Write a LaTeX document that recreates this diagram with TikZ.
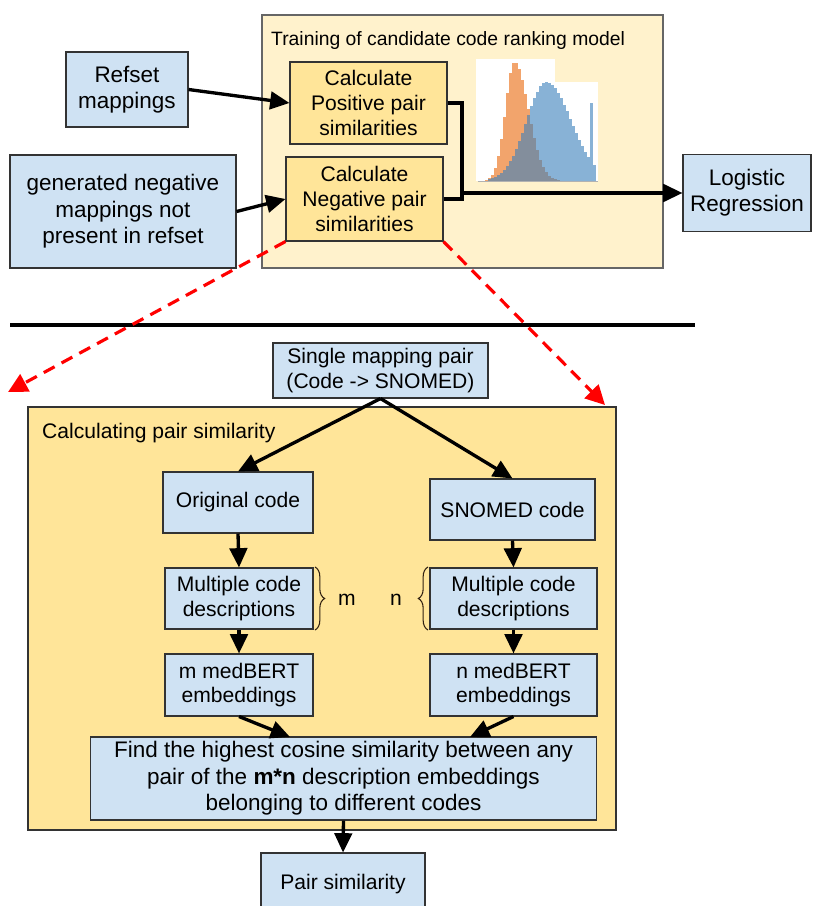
\documentclass[tikz,border=0pt]{standalone}
\usepackage{fontspec}
\setmainfont{Liberation Sans}
\usepackage{tikz}
\usetikzlibrary{arrows.meta, decorations.pathreplacing}

\definecolor{boxblue}{HTML}{CFE2F3}
\definecolor{boxamber}{HTML}{FFE599}
\definecolor{boxcream}{HTML}{FFF2CC}
\definecolor{historange}{HTML}{F2A46C}
\definecolor{histblue}{HTML}{3A80BC}

\begin{document}
\begin{tikzpicture}[x=0.02cm, y=-0.02cm,
    font=\fontsize{12}{14}\selectfont,
    bluebox/.style={draw=black!80, line width=0.6pt, fill=boxblue, align=center, inner sep=2pt},
    amberbox/.style={draw=black!80, line width=0.6pt, fill=boxamber, align=center, inner sep=2pt},
    bigtext/.style={font=\fontsize{12.8}{15}\selectfont},
    flow/.style={line width=1.9pt, -{Triangle[length=11pt, width=10pt]}},
    zoomline/.style={red, line width=1.8pt, dash pattern=on 7pt off 4.5pt, -{Triangle[length=11pt, width=11pt]}}]
   \useasboundingbox (0,0) rectangle (818,906);

   % upper part: training
   \draw[draw=black!60, fill=boxcream, line width=0.6pt] (262,15) rectangle (663,268);
   \node[anchor=west, font=\fontsize{11}{13}\selectfont] (traintitle) at (265,41) {Training of candidate code ranking model};

   \node[bluebox, bigtext, minimum width=2.44cm, minimum height=1.5cm] (refset) at (127,89.5) {Refset\\mappings};
   \node[bluebox, bigtext, minimum width=4.52cm, minimum height=2.26cm] (negmap) at (123,211.5) {generated negative\\mappings not\\present in refset};
   \node[amberbox, minimum width=3.14cm, minimum height=1.64cm] (pos) at (368.5,103) {Calculate\\Positive pair\\similarities};
   \node[amberbox, minimum width=3.14cm, minimum height=1.68cm] (neg) at (364.5,199) {Calculate\\Negative pair\\similarities};
   \node[bluebox, bigtext, minimum width=2.56cm, minimum height=1.54cm] (logreg) at (747,193) {Logistic\\Regression};
   \coordinate (junc) at (462,193);

   % histogram
   \fill[white] (476,59) rectangle (555,181);
   \fill[white] (555,82) rectangle (598,181);
   \foreach \hx in {482,485,...,560} {
      \pgfmathsetmacro{\ho}{ifthenelse(\hx<513, 119*exp(-((\hx-513)*(\hx-513))/162), 119*exp(-((\hx-513)*(\hx-513))/392))}
      \fill[historange] (\hx,181) rectangle (\hx+3,181-\ho);
   }
   \foreach \hx in {488,491,...,593} {
      \pgfmathsetmacro{\hb}{ifthenelse(\hx==590, 78, ifthenelse(\hx<545, 99*exp(-((\hx-545)*(\hx-545))/800), 99*exp(-((\hx-545)*(\hx-545))/1250)))}
      \fill[histblue, opacity=0.6] (\hx,181) rectangle (\hx+3,181-\hb);
   }
   \draw[black!30, line width=0.4pt] (478,181) -- (598,181);

   \draw[flow] (refset.east) -- (pos.west);
   \draw[flow] (negmap.east) -- (neg.west);
   \draw[line width=1.9pt] (pos.east) -| (junc);
   \draw[line width=1.9pt] (neg.east) -| (junc);
   \draw[flow] (junc) -- (logreg.west);

   % separator
   \draw[line width=2.6pt] (10,325) -- (695,325);

   % lower part: pair similarity
   \draw[draw=black!80, fill=boxamber, line width=0.6pt] (28,407) rectangle (616,830);
   \node[anchor=west] (calctitle) at (36,433) {Calculating pair similarity};

   \node[bluebox, minimum width=4.3cm, minimum height=1.1cm] (single) at (380.5,370.5) {Single mapping pair\\(Code -> SNOMED)};
   \node[bluebox, minimum width=3.0cm, minimum height=1.22cm] (orig) at (238,502.5) {Original code};
   \node[bluebox, minimum width=3.3cm, minimum height=1.22cm] (snomed) at (512.5,509.5) {SNOMED code};
   \node[bluebox, minimum width=2.96cm, minimum height=1.22cm] (descl) at (239,598.5) {Multiple code\\descriptions};
   \node[bluebox, minimum width=3.34cm, minimum height=1.22cm] (descr) at (513.5,598.5) {Multiple code\\descriptions};
   \node[bluebox, minimum width=2.96cm, minimum height=1.24cm] (embl) at (239,685) {m medBERT\\embeddings};
   \node[bluebox, minimum width=3.34cm, minimum height=1.24cm] (embr) at (513.5,685) {n medBERT\\embeddings};
   \node[bluebox, bigtext, minimum width=10.14cm, minimum height=1.66cm] (find) at (343.5,778.5) {Find the highest cosine similarity between any\\pair of the \textbf{m*n} description embeddings\\belonging to different codes};
   \node[bluebox, minimum width=3.28cm, minimum height=1.26cm] (pairsim) at (343,884.5) {Pair similarity};
   \coordinate (findl) at (290,737);
   \coordinate (findr) at (470,737);

   \draw[decorate, decoration={brace, amplitude=5.5pt}, black!75!brown, line width=0.6pt] (315,567) -- (315,630);
   \draw[decorate, decoration={brace, amplitude=5.5pt}, black!75!brown, line width=0.6pt] (428,630) -- (428,567);
   \node (mlabel) at (347,600) {m};
   \node (nlabel) at (396,600) {n};

   \draw[flow] (single.south) -- (orig.north);
   \draw[flow] (single.south) -- (snomed.north);
   \draw[flow] (orig.south) -- (descl.north);
   \draw[flow] (snomed.south) -- (descr.north);
   \draw[flow] (descl.south) -- (embl.north);
   \draw[flow] (descr.south) -- (embr.north);
   \draw[flow] (embl.south) -- (findl);
   \draw[flow] (embr.south) -- (findr);
   \draw[flow] (find.south) -- (pairsim.north);

   % zoom arrows
   \coordinate (zoomleft) at (8,392);
   \coordinate (zoomright) at (605,405);
   \draw[zoomline] (neg.south west) -- (zoomleft);
   \draw[zoomline] (neg.south east) -- (zoomright);
\end{tikzpicture}
\end{document}
